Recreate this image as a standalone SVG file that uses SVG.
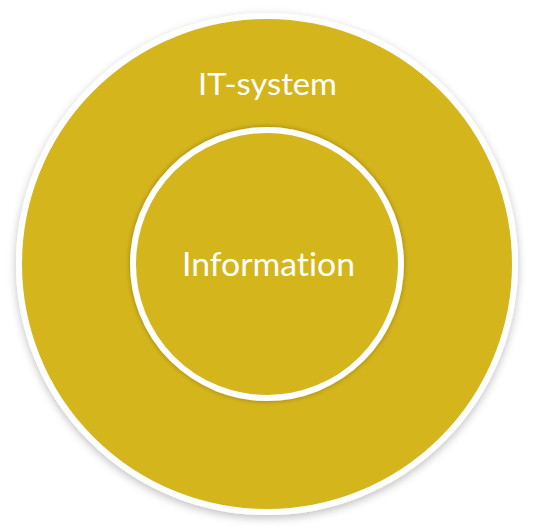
<svg xmlns="http://www.w3.org/2000/svg" width="535" height="529" viewBox="0 0 535 529">
  <defs>
    <filter id="shadow" x="-10%" y="-10%" width="120%" height="125%">
      <feGaussianBlur in="SourceAlpha" stdDeviation="4"/>
      <feOffset dx="0" dy="3" result="b"/>
      <feFlood flood-color="#000" flood-opacity="0.25"/>
      <feComposite in2="b" operator="in"/>
      <feMerge><feMergeNode/><feMergeNode in="SourceGraphic"/></feMerge>
    </filter>
    <filter id="glow" x="-20%" y="-20%" width="140%" height="140%">
      <feGaussianBlur in="SourceAlpha" stdDeviation="2.5" result="b"/>
      <feFlood flood-color="#000" flood-opacity="0.3"/>
      <feComposite in2="b" operator="in"/>
      <feMerge><feMergeNode/><feMergeNode in="SourceGraphic"/></feMerge>
    </filter>
  </defs>
  <style>
    .disc { fill: #D4B51F; stroke: #FFFFFF; stroke-width: 6; }
    .label { font-family: "Lato", "Noto Sans", sans-serif; fill: #FFFFFF; text-anchor: middle; font-variant-ligatures: none; }
  </style>
  <rect width="535" height="529" fill="#FFFFFF"/>
  <g id="it-system">
    <circle class="disc" cx="267" cy="264" r="248" filter="url(#shadow)"/>
    <text class="label" x="267.5" y="95" font-size="31" textLength="139" lengthAdjust="spacingAndGlyphs">IT-system</text>
  </g>
  <g id="information">
    <circle class="disc" cx="267" cy="264" r="134" stroke-width="6.5" filter="url(#glow)"/>
    <text class="label" x="268.5" y="276" font-size="32" textLength="173" lengthAdjust="spacingAndGlyphs">Information</text>
  </g>
  <g id="connectors"/>
</svg>
